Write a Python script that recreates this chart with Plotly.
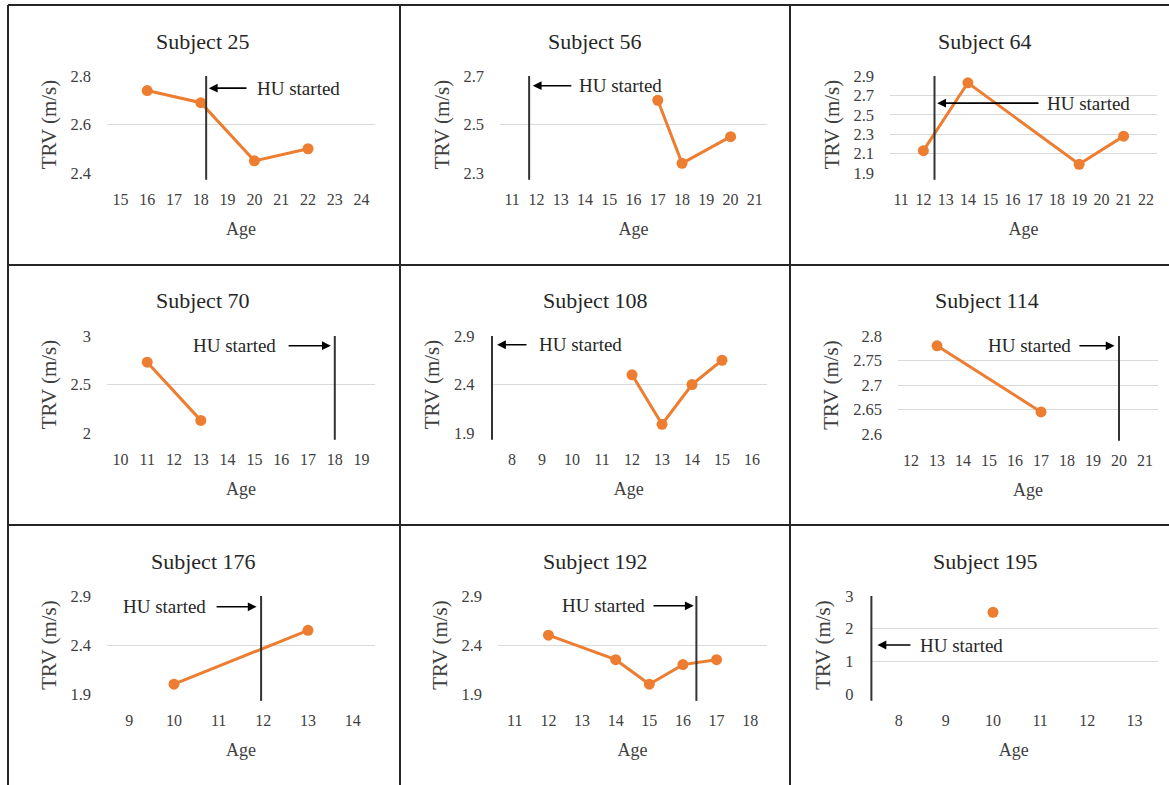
import plotly.graph_objects as go

# ---------------- data ----------------
titles = ["Subject 25", "Subject 56", "Subject 64",
          "Subject 70", "Subject 108", "Subject 114",
          "Subject 176", "Subject 192", "Subject 195"]

ages_25 = [16, 18, 20, 22]
trv_25 = [2.74, 2.69, 2.45, 2.50]
hu_25 = 18.2

ages_56 = [17, 18, 20]
trv_56 = [2.60, 2.34, 2.45]
hu_56 = 11.7

ages_64 = [12, 14, 19, 21]
trv_64 = [2.13, 2.83, 1.99, 2.28]
hu_64 = 12.5

ages_70 = [11, 13]
trv_70 = [2.73, 2.13]
hu_70 = 18.0

ages_108 = [12, 13, 14, 15]
trv_108 = [2.50, 1.99, 2.40, 2.65]
hu_108 = 7.33

ages_114 = [13, 17]
trv_114 = [2.78, 2.645]
hu_114 = 20.0

ages_176 = [10, 13]
trv_176 = [2.00, 2.55]
hu_176 = 11.95

ages_192 = [12, 14, 15, 16, 17]
trv_192 = [2.50, 2.25, 2.00, 2.20, 2.25]
hu_192 = 16.4

ages_195 = [10]
trv_195 = [2.50]
hu_195 = 7.42

xticks_25 = [15, 16, 17, 18, 19, 20, 21, 22, 23, 24]
xticks_56 = [11, 12, 13, 14, 15, 16, 17, 18, 19, 20, 21]
xticks_64 = [11, 12, 13, 14, 15, 16, 17, 18, 19, 20, 21, 22]
xticks_70 = [10, 11, 12, 13, 14, 15, 16, 17, 18, 19]
xticks_108 = [8, 9, 10, 11, 12, 13, 14, 15, 16]
xticks_114 = [12, 13, 14, 15, 16, 17, 18, 19, 20, 21]
xticks_176 = [9, 10, 11, 12, 13, 14]
xticks_192 = [11, 12, 13, 14, 15, 16, 17, 18]
xticks_195 = [8, 9, 10, 11, 12, 13]

yticks_25 = ["2.4", "2.6", "2.8"]
yticks_56 = ["2.3", "2.5", "2.7"]
yticks_64 = ["1.9", "2.1", "2.3", "2.5", "2.7", "2.9"]
yticks_70 = ["2", "2.5", "3"]
yticks_108 = ["1.9", "2.4", "2.9"]
yticks_114 = ["2.6", "2.65", "2.7", "2.75", "2.8"]
yticks_176 = ["1.9", "2.4", "2.9"]
yticks_192 = ["1.9", "2.4", "2.9"]
yticks_195 = ["0", "1", "2", "3"]

hu_label = "HU started"
x_title = "Age"
y_title = "TRV (m/s)"

# ---------------- layout / style ----------------
W, H = 1169, 785
FONT = "Liberation Serif"
TXT = "#404040"
ORANGE = "#ED7D31"
GRID = "#D9D9D9"

# (ages, trv, hu, xticks, yticks, xrange_lo, plot box px (l, r, t, b),
#  title centre px (x, y), arrow (y, head x, tail x, text x, side))
panels = [
    (ages_25, trv_25, hu_25, xticks_25, yticks_25, None, (107, 375, 76, 173), (203, 42),
     (2.75, 18.3, 19.76, 20.02, "left")),
    (ages_56, trv_56, hu_56, xticks_56, yticks_56, None, (500, 767, 76, 173), (595, 42),
     (2.66, 11.85, 13.5, 13.67, "left")),
    (ages_64, trv_64, hu_64, xticks_64, yticks_64, None, (890, 1157, 76, 173), (985, 42),
     (2.62, 12.62, 17.24, 17.47, "left")),
    (ages_70, trv_70, hu_70, xticks_70, yticks_70, None, (107, 375, 336, 433), (203, 300),
     (2.9, 17.85, 16.22, 15.88, "right")),
    (ages_108, trv_108, hu_108, xticks_108, yticks_108, 7.28, (490.5, 767, 336, 433), (595, 300),
     (2.81, 7.5, 8.53, 8.83, "left")),
    (ages_114, trv_114, hu_114, xticks_114, yticks_114, None, (898, 1158, 336, 434), (987, 300),
     (2.78, 19.83, 18.42, 18.23, "right")),
    (ages_176, trv_176, hu_176, xticks_176, yticks_176, None, (107, 375, 596, 694), (203, 561),
     (2.79, 11.85, 10.92, 10.76, "right")),
    (ages_192, trv_192, hu_192, xticks_192, yticks_192, None, (498, 767, 596, 694), (595, 561),
     (2.8, 16.32, 15.08, 14.93, "right")),
    (ages_195, trv_195, hu_195, xticks_195, yticks_195, 7.38, (869.5, 1158, 596, 694), (985, 561),
     (1.5, 7.55, 8.28, 8.41, "left")),
]

fig = go.Figure()
annotations = []
shapes = []

for i, (ages, trv, hu, xt, yt, xlo, box, tpos, arr) in enumerate(panels):
    n = "" if i == 0 else str(i + 1)
    xa, ya = "x" + n, "y" + n
    l, r, t, b = box
    yvals = [float(v) for v in yt]
    lo = xlo if xlo is not None else xt[0] - 0.5
    fig.add_trace(go.Scatter(
        x=ages, y=trv, mode="lines+markers", xaxis=xa, yaxis=ya,
        line=dict(color=ORANGE, width=3),
        marker=dict(color=ORANGE, size=11),
        cliponaxis=False, showlegend=False, hoverinfo="x+y"))
    fig.layout["xaxis" + n] = dict(
        domain=[l / W, r / W], anchor=ya, range=[lo, xt[-1] + 0.5],
        tickvals=xt, ticktext=[str(v) for v in xt], showgrid=False,
        zeroline=False, showline=False, ticks="",
        tickfont=dict(family=FONT, size=16, color=TXT),
        ticklabelstandoff=15, automargin=False,
        title=dict(text=x_title, font=dict(family=FONT, size=18, color=TXT), standoff=15))
    fig.layout["yaxis" + n] = dict(
        domain=[1 - b / H, 1 - t / H], anchor=xa, range=[yvals[0], yvals[-1]],
        tickvals=yvals, ticktext=yt, showgrid=True, gridcolor=GRID, gridwidth=1,
        zeroline=False, showline=False, ticks="",
        tickfont=dict(family=FONT, size=16.5, color=TXT),
        ticklabelstandoff=15, automargin=False,
        title=dict(text=y_title, font=dict(family=FONT, size=21, color=TXT), standoff=8))
    # HU started line
    shapes.append(dict(type="line", xref=xa, yref=ya + " domain",
                       x0=hu, x1=hu, y0=-0.07, y1=1.0,
                       line=dict(color="#333333", width=2)))
    # arrow
    ay, head, tail, tx, side = arr
    annotations.append(dict(xref=xa, yref=ya, axref=xa, ayref=ya,
                            x=head, y=ay, ax=tail, ay=ay, text="",
                            showarrow=True, arrowhead=2, arrowsize=1.1,
                            arrowwidth=1.6, arrowcolor="black",
                            standoff=0, startstandoff=0))
    annotations.append(dict(xref=xa, yref=ya, x=tx, y=ay, text=hu_label,
                            showarrow=False,
                            xanchor="left" if side == "left" else "right",
                            yanchor="middle",
                            font=dict(family=FONT, size=19, color="#262626")))
    # panel title
    annotations.append(dict(xref="paper", yref="paper", x=tpos[0] / W, y=1 - tpos[1] / H,
                            text=titles[i], showarrow=False, xanchor="center",
                            yanchor="middle",
                            font=dict(family=FONT, size=22, color="#262626")))

# panel borders
BORDER = "#262626"
for xv in (8, 400, 790):
    shapes.append(dict(type="line", xref="paper", yref="paper",
                       x0=xv / W, x1=xv / W, y0=0, y1=1 - 5 / H,
                       line=dict(color=BORDER, width=2)))
for yv in (5, 265, 525):
    shapes.append(dict(type="line", xref="paper", yref="paper",
                       x0=8 / W, x1=1, y0=1 - yv / H, y1=1 - yv / H,
                       line=dict(color=BORDER, width=2)))

fig.update_layout(width=W, height=H, margin=dict(l=0, r=0, t=0, b=0, pad=0),
                  paper_bgcolor="white", plot_bgcolor="white",
                  shapes=shapes, annotations=annotations,
                  font=dict(family=FONT, color=TXT))

fig.write_html(
    "out.html",
    config={"displayModeBar": False},
    post_script=("document.documentElement.style.margin='0';"
                 "document.body.style.margin='0';"
                 "document.body.style.overflow='hidden';"
                 "var d=document.getElementById('{plot_id}');"
                 "d.style.position='fixed';d.style.top='0px';d.style.left='0px';"),
)
